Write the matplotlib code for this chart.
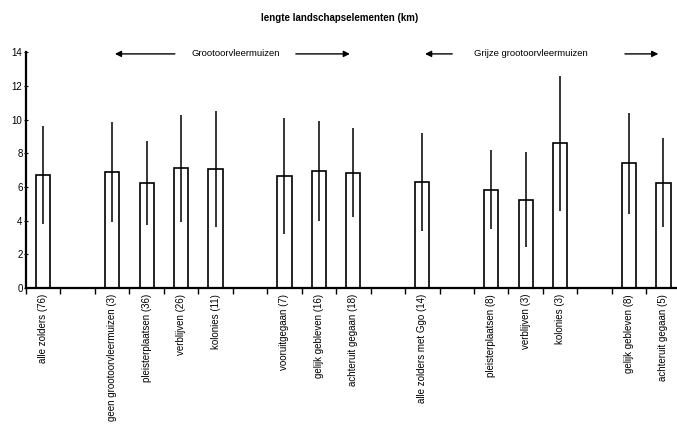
import numpy as np
import matplotlib.pyplot as plt

plt.rcParams['font.family'] = ['Liberation Sans', 'DejaVu Sans']

# slot positions (gaps between groups are empty slots)
positions = [0, 2, 3, 4, 5, 7, 8, 9, 11, 13, 14, 15, 17, 18]
labels = [
    "alle zolders (76)", "geen grootoorvleermuizen (3)", "pleisterplaatsen (36)",
    "verblijven (26)", "kolonies (11)", "vooruitgegaan (7)", "gelijk gebleven (16)",
    "achteruit gegaan (18)", "alle zolders met Ggo (14)", "pleisterplaatsen (8)",
    "verblijven (3)", "kolonies (3)", "gelijk gebleven (8)", "achteruit gegaan (5)",
]
means = [6.7, 6.9, 6.25, 7.1, 7.05, 6.65, 6.95, 6.85, 6.3, 5.85, 5.25, 8.6, 7.4, 6.25]
sds = [2.9, 2.95, 2.5, 3.2, 3.45, 3.45, 2.95, 2.65, 2.9, 2.35, 2.8, 4.0, 3.0, 2.65]

fig = plt.figure(figsize=(6.77, 4.28), dpi=100)
ax = fig.add_axes([0.0384, 0.327, 0.962, 0.551])

ax.bar(positions, means, width=0.41, color="white", edgecolor="black", linewidth=1.2, zorder=2)
ax.errorbar(positions, means, yerr=sds, fmt="none", ecolor="black", elinewidth=1.1,
            capsize=0, zorder=3)

ax.set_xlim(-0.5, 18.4)
ax.set_ylim(0, 14)
ax.set_yticks(range(0, 15, 2))
ax.tick_params(axis="y", labelsize=7, length=3, direction="inout", pad=1)
ax.set_xticks(np.arange(-0.5, 18.5, 1.0))
ax.set_xticklabels([])
ax.tick_params(axis="x", length=4, direction="out", width=1)
for side in ["top", "right"]:
    ax.spines[side].set_visible(False)
ax.spines["left"].set_linewidth(1.6)
ax.spines["bottom"].set_linewidth(1.6)

for p, lab in zip(positions, labels):
    ax.text(p, -0.35, lab, rotation=90, ha="center", va="top", fontsize=7)

fig.text(0.502, 0.958, "lengte landschapselementen (km)", ha="center", va="center",
         fontsize=7, fontweight="bold")

arrow = dict(arrowstyle="-|>", color="black", lw=1.0, mutation_scale=9)
y_arr = 13.9
ax.annotate("", xy=(2.0, y_arr), xytext=(3.9, y_arr), arrowprops=arrow, annotation_clip=False)
ax.annotate("", xy=(8.98, y_arr), xytext=(7.25, y_arr), arrowprops=arrow, annotation_clip=False)
ax.text(5.6, y_arr, "Grootoorvleermuizen", ha="center", va="center", fontsize=6.8)
ax.annotate("", xy=(11.0, y_arr), xytext=(11.95, y_arr), arrowprops=arrow, annotation_clip=False)
ax.annotate("", xy=(17.93, y_arr), xytext=(16.8, y_arr), arrowprops=arrow, annotation_clip=False)
ax.text(14.15, y_arr, "Grijze grootoorvleermuizen", ha="center", va="center", fontsize=6.8)

fig.savefig("out.png", dpi=100)
